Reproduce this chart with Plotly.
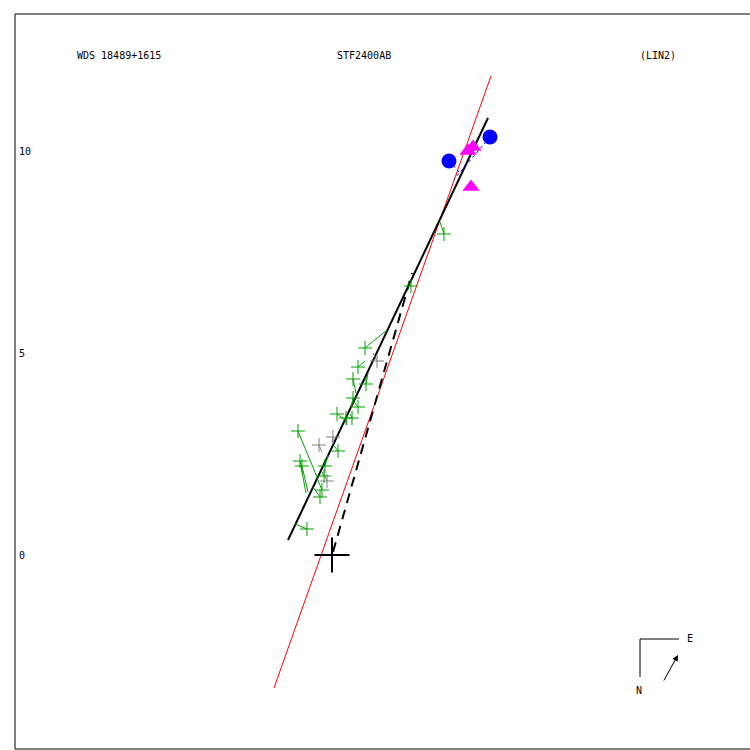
import plotly.graph_objects as go

# pixel scale helper: 1 unit = 40.4 px, origin at (332,555) in the 750x750 canvas
S = 40.4
OX, OY = 332, 555

# ---- data (arcsec) ----
obs_x = [2.772, 1.955, 0.817, 0.644, 0.520, 0.842, 0.520, 0.644, 0.124, 0.495, 0.347,
         -0.842, 0.149, -0.792, -0.743, -0.173, -0.198, -0.248, -0.297, -0.619]
obs_y = [7.946, 6.658, 5.124, 4.653, 4.356, 4.233, 3.886, 3.663, 3.490, 3.391, 3.391,
         3.069, 2.574, 2.327, 2.203, 2.203, 1.955, 1.609, 1.436, 0.644]
pred_x = [2.673, 1.881, 1.361, 0.817, 0.594, 0.891, 0.470, 0.545, 0.322, 0.446, 0.371,
          -0.371, 0.050, -0.644, -0.594, -0.099, -0.248, -0.371, -0.470, -0.916]
pred_y = [8.243, 6.733, 5.569, 4.802, 4.010, 4.505, 3.663, 3.787, 3.342, 3.490, 3.218,
          1.931, 2.698, 1.535, 1.559, 2.475, 2.054, 1.906, 1.683, 0.767]

grey_x = [1.114, -0.322, 0.025, -0.124]
grey_y = [4.802, 2.723, 2.921, 1.832]
grey_px = [1.015, -0.248, 0.000, -0.198]
grey_py = [5.000, 2.550, 2.800, 2.000]

circ_x = [2.896, 3.911]
circ_y = [9.752, 10.347]
circ_px = [3.168, 3.020]
circ_py = [9.455, 9.300]

tri_x = [3.366, 3.490, 3.441]
tri_y = [10.000, 10.099, 9.109]
tri_px = [3.441, 3.441, 3.441]
tri_py = [10.000, 10.000, 9.109]

orbit_x = [-1.089, 3.861]
orbit_y = [0.371, 10.817]
red_x = [-1.436, 3.936]
red_y = [-3.292, 11.856]
node_x = [0.025, 1.980]
node_y = [0.074, 6.980]

ytick_vals = [0, 5, 10]
ytick_text = ["0", "5", "10"]

FONT = "DejaVu Sans Mono"


def seg(xa, ya, xb, yb):
    xs, ys = [], []
    for a, b, c, d in zip(xa, ya, xb, yb):
        xs += [a, c, None]
        ys += [b, d, None]
    return xs, ys


fig = go.Figure()

# red line
fig.add_trace(go.Scatter(x=red_x, y=red_y, mode="lines",
                         line=dict(color="red", width=1), hoverinfo="skip"))
# dashed line
fig.add_trace(go.Scatter(x=node_x, y=node_y, mode="lines",
                         line=dict(color="black", width=2, dash="10px,7px"), hoverinfo="skip"))
# orbit solid
fig.add_trace(go.Scatter(x=orbit_x, y=orbit_y, mode="lines",
                         line=dict(color="black", width=2), hoverinfo="skip"))

# residual lines
sx, sy = seg(obs_x, obs_y, pred_x, pred_y)
fig.add_trace(go.Scatter(x=sx, y=sy, mode="lines", line=dict(color="#00a000", width=1), hoverinfo="skip"))
sx, sy = seg(grey_x, grey_y, grey_px, grey_py)
fig.add_trace(go.Scatter(x=sx, y=sy, mode="lines", line=dict(color="#808080", width=1), hoverinfo="skip"))
sx, sy = seg(circ_x, circ_y, circ_px, circ_py)
fig.add_trace(go.Scatter(x=sx, y=sy, mode="lines", line=dict(color="blue", width=1, dash="dot"), hoverinfo="skip"))
sx, sy = seg(tri_x, tri_y, tri_px, tri_py)
fig.add_trace(go.Scatter(x=sx, y=sy, mode="lines", line=dict(color="magenta", width=1), hoverinfo="skip"))

# markers
fig.add_trace(go.Scatter(x=obs_x, y=obs_y, mode="markers",
                         marker=dict(symbol="cross-thin", size=10, line=dict(color="#00a000", width=1))))
fig.add_trace(go.Scatter(x=grey_x, y=grey_y, mode="markers",
                         marker=dict(symbol="cross-thin", size=10, line=dict(color="#808080", width=1))))
fig.add_trace(go.Scatter(x=circ_x, y=circ_y, mode="markers",
                         marker=dict(symbol="circle", size=15, color="blue", line=dict(width=0))))
fig.add_trace(go.Scatter(x=tri_x, y=tri_y, mode="markers",
                         marker=dict(symbol="triangle-up", size=15, color="magenta", line=dict(width=0))))
# origin cross
fig.add_trace(go.Scatter(x=[0], y=[0], mode="markers",
                         marker=dict(symbol="cross-thin", size=25, line=dict(color="black", width=2))))

def px(x):
    return x / 750.0

def py(y):
    return 1 - y / 750.0

shapes = [
    dict(type="line", xref="paper", yref="paper", x0=px(15), y0=py(14), x1=px(15), y1=py(749),
         line=dict(color="black", width=1)),
    dict(type="line", xref="paper", yref="paper", x0=px(15), y0=py(14), x1=1.01, y1=py(14),
         line=dict(color="black", width=1)),
    dict(type="line", xref="paper", yref="paper", x0=px(15), y0=py(749), x1=1.01, y1=py(749),
         line=dict(color="black", width=1)),
    # compass
    dict(type="line", xref="paper", yref="paper", x0=px(640), y0=py(639), x1=px(679), y1=py(639),
         line=dict(color="black", width=1)),
    dict(type="line", xref="paper", yref="paper", x0=px(640), y0=py(639), x1=px(640), y1=py(677),
         line=dict(color="black", width=1)),
]

annotations = [
    dict(text="WDS 18489+1615", xref="paper", yref="paper", x=px(75), y=py(55), xanchor="left",
         yanchor="middle", showarrow=False, font=dict(family=FONT, size=10, color="black")),
    dict(text="STF2400AB", xref="paper", yref="paper", x=px(335), y=py(55), xanchor="left",
         yanchor="middle", showarrow=False, font=dict(family=FONT, size=10, color="black")),
    dict(text="(LIN2)", xref="paper", yref="paper", x=px(638), y=py(55), xanchor="left",
         yanchor="middle", showarrow=False, font=dict(family=FONT, size=10, color="black")),
    dict(text="E", xref="paper", yref="paper", x=px(685), y=py(638), xanchor="left",
         yanchor="middle", showarrow=False, font=dict(family=FONT, size=10, color="black")),
    dict(text="N", xref="paper", yref="paper", x=px(634), y=py(690), xanchor="left",
         yanchor="middle", showarrow=False, font=dict(family=FONT, size=10, color="black")),
    dict(text="", xref="paper", yref="paper", x=px(678), y=py(655), ax=-15, ay=27,
         axref="pixel", ayref="pixel", showarrow=True, arrowhead=2, arrowsize=1.2, arrowwidth=1,
         arrowcolor="black"),
]
for v, t in zip(ytick_vals, ytick_text):
    annotations.append(dict(text=t, xref="paper", yref="y", x=px(17), y=v, xanchor="left",
                            yanchor="middle", showarrow=False,
                            font=dict(family=FONT, size=10, color="black")))

fig.update_layout(
    width=750, height=750, margin=dict(l=0, r=0, t=0, b=0),
    paper_bgcolor="white", plot_bgcolor="white", showlegend=False,
    xaxis=dict(range=[-OX / S, (750 - OX) / S], visible=False, showgrid=False, zeroline=False),
    yaxis=dict(range=[(OY - 750) / S, OY / S], visible=False, showgrid=False, zeroline=False),
    shapes=shapes, annotations=annotations,
)

fig.write_html("out.html", config={"displayModeBar": False},
               post_script="document.body.style.margin='0';document.body.style.overflow='hidden';")
